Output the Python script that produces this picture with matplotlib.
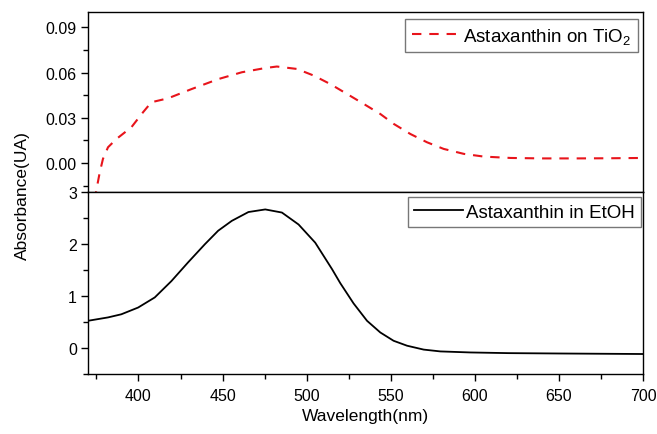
import numpy as np
import matplotlib
matplotlib.use("Agg")
import matplotlib.pyplot as plt
from matplotlib.ticker import MultipleLocator, FormatStrFormatter

plt.rcParams["font.family"] = ["Liberation Sans", "DejaVu Sans"]
plt.rcParams["mathtext.fontset"] = "custom"
plt.rcParams["mathtext.rm"] = "Liberation Sans"
plt.rcParams["mathtext.default"] = "regular"

# ---------------------------------------------------------------------------
# Data
# ---------------------------------------------------------------------------
wl_tio2 = [374, 374.9, 377, 378.9, 381.9, 386.9, 395.8, 402.7, 407.7, 417.6,
           431.5, 447.6, 461.5, 475.4, 482.3, 494.2, 504.2, 514, 524, 533.9,
           543.8, 551.8, 561.7, 571.6, 581.5, 593.5, 605.4, 621.2, 640, 660,
           680, 700]
abs_tio2 = [-0.025, -0.0184, -0.0062, 0.0027, 0.0104, 0.0159, 0.0237, 0.0336,
            0.0403, 0.0429, 0.049, 0.0557, 0.0602, 0.063, 0.064, 0.0624, 0.058,
            0.0524, 0.0458, 0.0392, 0.0325, 0.0259, 0.0192, 0.0137, 0.0093,
            0.006, 0.0042, 0.0033, 0.0030, 0.0030, 0.0031, 0.0033]

wl_etoh = [370, 381.9, 389.8, 399.8, 409.7, 419.6, 429.5, 439.5, 447.4, 455.5,
           465.4, 475.4, 485.3, 495.2, 505.1, 515.1, 520, 527.9, 535.9,
           543.8, 551.7, 559.7, 569.6, 579.5, 597.4, 620, 650, 675, 700]
abs_etoh = [0.525, 0.59, 0.65, 0.78, 0.975, 1.29, 1.65, 2.0, 2.26, 2.45, 2.62,
            2.67, 2.61, 2.38, 2.03, 1.52, 1.25, 0.86, 0.525, 0.30, 0.14,
            0.045, -0.03, -0.065, -0.085, -0.098, -0.105, -0.11, -0.115]

label_tio2 = "Astaxanthin on TiO$_2$"
label_etoh = "Astaxanthin in EtOH"

# ---------------------------------------------------------------------------
# Figure
# ---------------------------------------------------------------------------
fig = plt.figure(figsize=(6.57, 4.35), dpi=100)
W, H = 657, 435
left, right = 88 / W, 643 / W
ax_top = fig.add_axes([left, 1 - 193.3 / H, right - left, (193.3 - 13.3) / H])
ax_bot = fig.add_axes([left, 1 - 375 / H, right - left, (375 - 193.3) / H],
                      sharex=ax_top)

ax_top.plot(wl_tio2, abs_tio2, color="#e8141b", lw=1.5, ls=(0, (4.5, 3.8)),
            label=label_tio2)
ax_bot.plot(wl_etoh, abs_etoh, color="black", lw=1.3, label=label_etoh,
            solid_joinstyle="round")

ax_top.set_xlim(370, 700)
ax_top.set_ylim(-0.0195, 0.1)
ax_bot.set_ylim(-0.5, 3)

ax_top.yaxis.set_major_locator(MultipleLocator(0.03))
ax_top.yaxis.set_minor_locator(MultipleLocator(0.015))
ax_top.yaxis.set_major_formatter(FormatStrFormatter("%.2f"))
ax_bot.yaxis.set_major_locator(MultipleLocator(1))
ax_bot.yaxis.set_minor_locator(MultipleLocator(0.5))
ax_bot.xaxis.set_major_locator(MultipleLocator(50))
ax_bot.xaxis.set_minor_locator(MultipleLocator(25))

for ax in (ax_top, ax_bot):
    for s in ax.spines.values():
        s.set_linewidth(1.0)
    ax.tick_params(which="major", direction="out", length=5, width=1.0,
                   labelsize=11.5, pad=3)
    ax.tick_params(which="minor", direction="out", length=3.5, width=1.0)
    ax.tick_params(axis="y", which="both", right=False)

ax_top.tick_params(axis="x", which="both", bottom=False, labelbottom=False)
ax_bot.tick_params(axis="x", which="major", pad=5)

leg_kw = dict(frameon=True, fancybox=False, edgecolor="#555555", fontsize=13.5,
              handlelength=2.6, handletextpad=0.15, borderpad=0.35,
              borderaxespad=0, bbox_transform=fig.transFigure, loc="upper right")
l1 = ax_top.legend(bbox_to_anchor=(638 / W, 1 - 20 / H), **leg_kw)
l2 = ax_bot.legend(bbox_to_anchor=(641 / W, 1 - 198 / H), **leg_kw)
for l in (l1, l2):
    l.get_frame().set_linewidth(1.0)

fig.text(22 / W, 1 - 196 / H, "Absorbance(UA)", rotation=90, ha="center",
         va="center", fontsize=12.5)
ax_bot.set_xlabel("Wavelength(nm)", fontsize=12.5, labelpad=4)

fig.savefig("out.png", dpi=100)
